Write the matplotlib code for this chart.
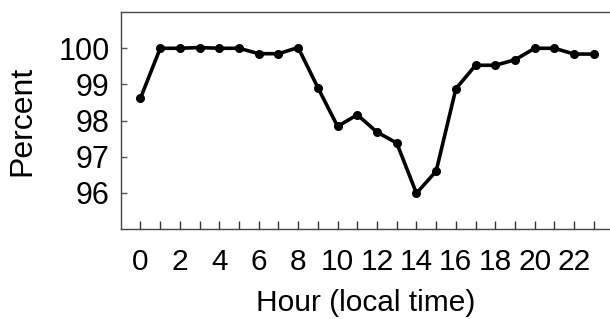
import numpy as np
import matplotlib.pyplot as plt

plt.rcParams['font.family'] = ['Liberation Sans', 'DejaVu Sans']

hours = list(range(24))
percent = [98.62, 100.0, 100.0, 100.02, 100.0, 100.0, 99.85, 99.85,
           100.02, 98.91, 97.84, 98.16, 97.68, 97.38, 95.99, 96.6,
           98.88, 99.53, 99.53, 99.68, 100.0, 100.0, 99.84, 99.84]
xticks = list(range(0, 23, 2))
yticks = [96, 97, 98, 99, 100]

fig = plt.figure(figsize=(6.1, 3.19), dpi=100)
ax = fig.add_axes([0.198, 0.282, 0.802, 0.68])

ax.plot(hours, percent, color='black', lw=2.6, marker='o', ms=5.5)

ax.set_xlim(-1, 23.82)
ax.set_ylim(95, 101)
ax.set_xticks(xticks)
ax.set_xticks(hours, minor=True)
ax.set_yticks(yticks)
ax.tick_params(axis='x', which='both', direction='in', length=6, width=1,
               labelsize=21.5, pad=14, color='#333333')
ax.tick_params(axis='y', direction='in', length=4, width=1,
               labelsize=22, pad=8, color='#555555')

for s in ['left', 'bottom', 'top']:
    ax.spines[s].set_color('#444444')
    ax.spines[s].set_linewidth(1.0)
ax.spines['right'].set_visible(False)

ax.set_xlabel('Hour (local time)', fontsize=21.5, labelpad=9)
ax.set_ylabel('Percent', fontsize=23, labelpad=15)

fig.savefig('out.png', dpi=100)
